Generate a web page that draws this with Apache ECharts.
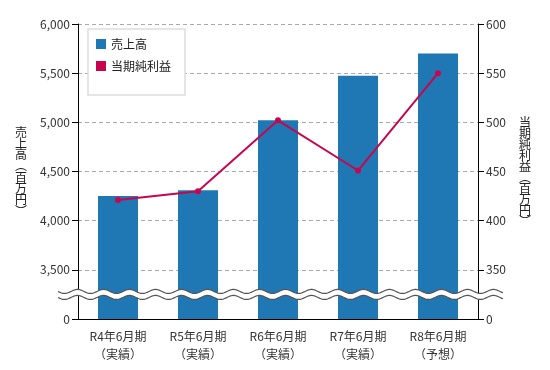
<!DOCTYPE html>
<html><head><meta charset="utf-8">
<script src="https://cdn.jsdelivr.net/npm/echarts@6/dist/echarts.min.js"></script>
<style>html,body{margin:0;padding:0;background:#fff}#c{width:550px;height:370px}</style>
</head><body><div id="c"></div>
<script>
const categories = ['R4年6月期\n（実績）','R5年6月期\n（実績）','R6年6月期\n（実績）','R7年6月期\n（実績）','R8年6月期\n（予想）'];
const salesValues = [4250, 4310, 5020, 5475, 5700];
const profitValues = [421, 430, 502, 451, 550];
const salesName = '売上高';
const profitName = '当期純利益';
const leftAxisName = '売上高︵百万円︶';
const rightAxisName = '当期純利益︵百万円︶';

const FONT = '"Noto Sans CJK JP", "Noto Sans", sans-serif';
const chart = echarts.init(document.getElementById('c'));
const vert = s => s.split('').join('\n');
chart.setOption({
  animation: false,
  textStyle: {fontFamily: FONT},
  grid: {left: 78, right: 72, top: 24, bottom: 51},
  legend: {
    orient: 'vertical', left: 88, top: 29,
    padding: [9, 14, 23, 8],
    backgroundColor: '#fff', borderColor: '#ddd', borderWidth: 1.5,
    itemWidth: 10, itemHeight: 10, itemGap: 10,
    textStyle: {fontSize: 12, color: '#222', fontFamily: FONT},
    data: [{name: salesName, icon: 'rect'}, {name: profitName, icon: 'rect'}]
  },
  xAxis: {
    type: 'category', data: categories,
    axisLine: {lineStyle: {color: '#000', width: 1}},
    axisTick: {length: 6, lineStyle: {color: '#000'}},
    axisLabel: {fontSize: 12, color: '#333', lineHeight: 18, margin: 8, fontFamily: FONT}
  },
  yAxis: [{
    type: 'value', min: 3000, max: 6000, interval: 500,
    name: vert(leftAxisName), nameLocation: 'middle', nameRotate: 0, nameGap: 51,
    nameTextStyle: {fontSize: 12, lineHeight: 11.3, color: '#222', fontFamily: FONT},
    axisLine: {show: true, lineStyle: {color: '#000'}},
    axisTick: {show: true, length: 6, lineStyle: {color: '#000'}},
    axisLabel: {fontSize: 12, color: '#333', margin: 8, fontFamily: FONT,
      formatter: v => v === 3000 ? '0' : v.toLocaleString('en-US')},
    splitLine: {lineStyle: {color: '#aaa', type: [4, 3]}}
  }, {
    type: 'value', min: 300, max: 600, interval: 50,
    name: vert(rightAxisName), nameLocation: 'middle', nameRotate: 0, nameGap: 41,
    nameTextStyle: {fontSize: 12, lineHeight: 11, color: '#222', fontFamily: FONT},
    axisLine: {show: true, lineStyle: {color: '#000'}},
    axisTick: {show: true, length: 6, lineStyle: {color: '#000'}},
    axisLabel: {fontSize: 12, color: '#333', margin: 8, fontFamily: FONT,
      formatter: v => v === 300 ? '0' : String(v)},
    splitLine: {show: false}
  }],
  series: [{
    name: salesName, type: 'bar', data: salesValues, barWidth: 40,
    itemStyle: {color: '#1f77b4'}, z: 2
  }, {
    name: profitName, type: 'line', yAxisIndex: 1, data: profitValues,
    symbol: 'circle', symbolSize: 6,
    lineStyle: {color: '#c8064f', width: 2}, itemStyle: {color: '#c8064f'}, z: 3
  }]
});

// axis break decoration between 0 and 3,500
const yA = chart.convertToPixel({yAxisIndex: 0}, 3000);
const yB = chart.convertToPixel({yAxisIndex: 0}, 3500);
const yMid = (yA + yB) / 2;
const wx0 = 58, wx1 = 503, period = 26, amp = 2, half = 3;
function wave(off) {
  const pts = [];
  for (let x = wx0; x <= wx1; x += 1) {
    pts.push([x, yMid + off + amp * Math.sin((x - wx0) / period * 2 * Math.PI)]);
  }
  return pts;
}
const waveTop = wave(-half), waveBot = wave(half);
chart.setOption({
  graphic: [
    {type: 'polygon', z: 100, shape: {points: waveTop.concat(waveBot.slice().reverse())}, style: {fill: '#fff'}},
    {type: 'polyline', z: 101, shape: {points: waveTop}, style: {stroke: '#555', lineWidth: 1.2, fill: null}},
    {type: 'polyline', z: 101, shape: {points: waveBot}, style: {stroke: '#555', lineWidth: 1.2, fill: null}}
  ]
});
</script></body></html>
